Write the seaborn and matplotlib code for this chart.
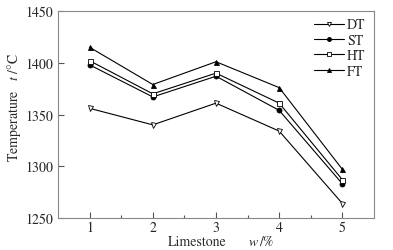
import matplotlib
matplotlib.use('Agg')
import matplotlib.pyplot as plt
import seaborn as sns
import pandas as pd

limestone = [1, 2, 3, 4, 5]
dt = [1356, 1340, 1361, 1334, 1264]
st = [1398, 1367, 1387, 1354, 1283]
ht = [1402, 1370, 1390, 1361, 1287]
ft = [1415, 1379, 1401, 1376, 1297]
series_names = ['DT', 'ST', 'HT', 'FT']

sns.set_style('ticks')
# Times-like font bundled with matplotlib
plt.rcParams['font.family'] = ['STIXGeneral', 'DejaVu Serif']
plt.rcParams['mathtext.fontset'] = 'stix'

df = pd.DataFrame({'w': limestone, 'DT': dt, 'ST': st, 'HT': ht, 'FT': ft})

styles = {
    'DT': dict(marker='v', markerfacecolor='white'),
    'ST': dict(marker='o', markerfacecolor='black'),
    'HT': dict(marker='s', markerfacecolor='white'),
    'FT': dict(marker='^', markerfacecolor='black'),
}

fig = plt.figure(figsize=(3.93, 2.51), dpi=100)
ax = fig.add_axes([0.1476, 0.1275, 0.804, 0.8245])

for name in series_names:
    sns.lineplot(data=df, x='w', y=name, ax=ax, color='black', lw=0.8,
                 markersize=3.6, markeredgecolor='black', markeredgewidth=0.6,
                 label=name, **styles[name])

ax.set_xlim(0.5, 5.5)
ax.set_ylim(1250, 1450)
ax.set_xticks(limestone)
ax.set_xticks([1.5, 2.5, 3.5, 4.5], minor=True)
ax.set_yticks([1250, 1300, 1350, 1400, 1450])
ax.tick_params(axis='both', which='both', direction='in', labelsize=10,
               color='#555555', width=0.8)
ax.tick_params(which='major', length=4)
ax.tick_params(which='minor', length=2)
ax.tick_params(axis='x', pad=2)
for sp in ax.spines.values():
    sp.set_color('#888888')
    sp.set_linewidth(0.8)

# x label built from pieces so the italic symbol needs no mathtext
ax.set_xlabel('')
lab_y = -0.132
ax.text(0.44, lab_y, 'Limestone', transform=ax.transAxes, fontsize=10,
        ha='center', va='baseline')
ax.text(0.604, lab_y, 'w', transform=ax.transAxes, fontsize=10,
        style='italic', ha='left', va='baseline')
ax.text(0.638, lab_y, '/%', transform=ax.transAxes, fontsize=10,
        ha='left', va='baseline')

ax.set_ylabel('Temperature   $t$ /°C', fontsize=10)
ax.yaxis.set_label_coords(-0.112, 0.54)

leg = ax.legend(loc='upper right', bbox_to_anchor=(0.995, 1.0), frameon=False,
                fontsize=10, handlelength=2.1, handletextpad=0.25,
                labelspacing=0.15, borderaxespad=0.1, markerscale=0.8)

fig.savefig('out.png', dpi=100)
